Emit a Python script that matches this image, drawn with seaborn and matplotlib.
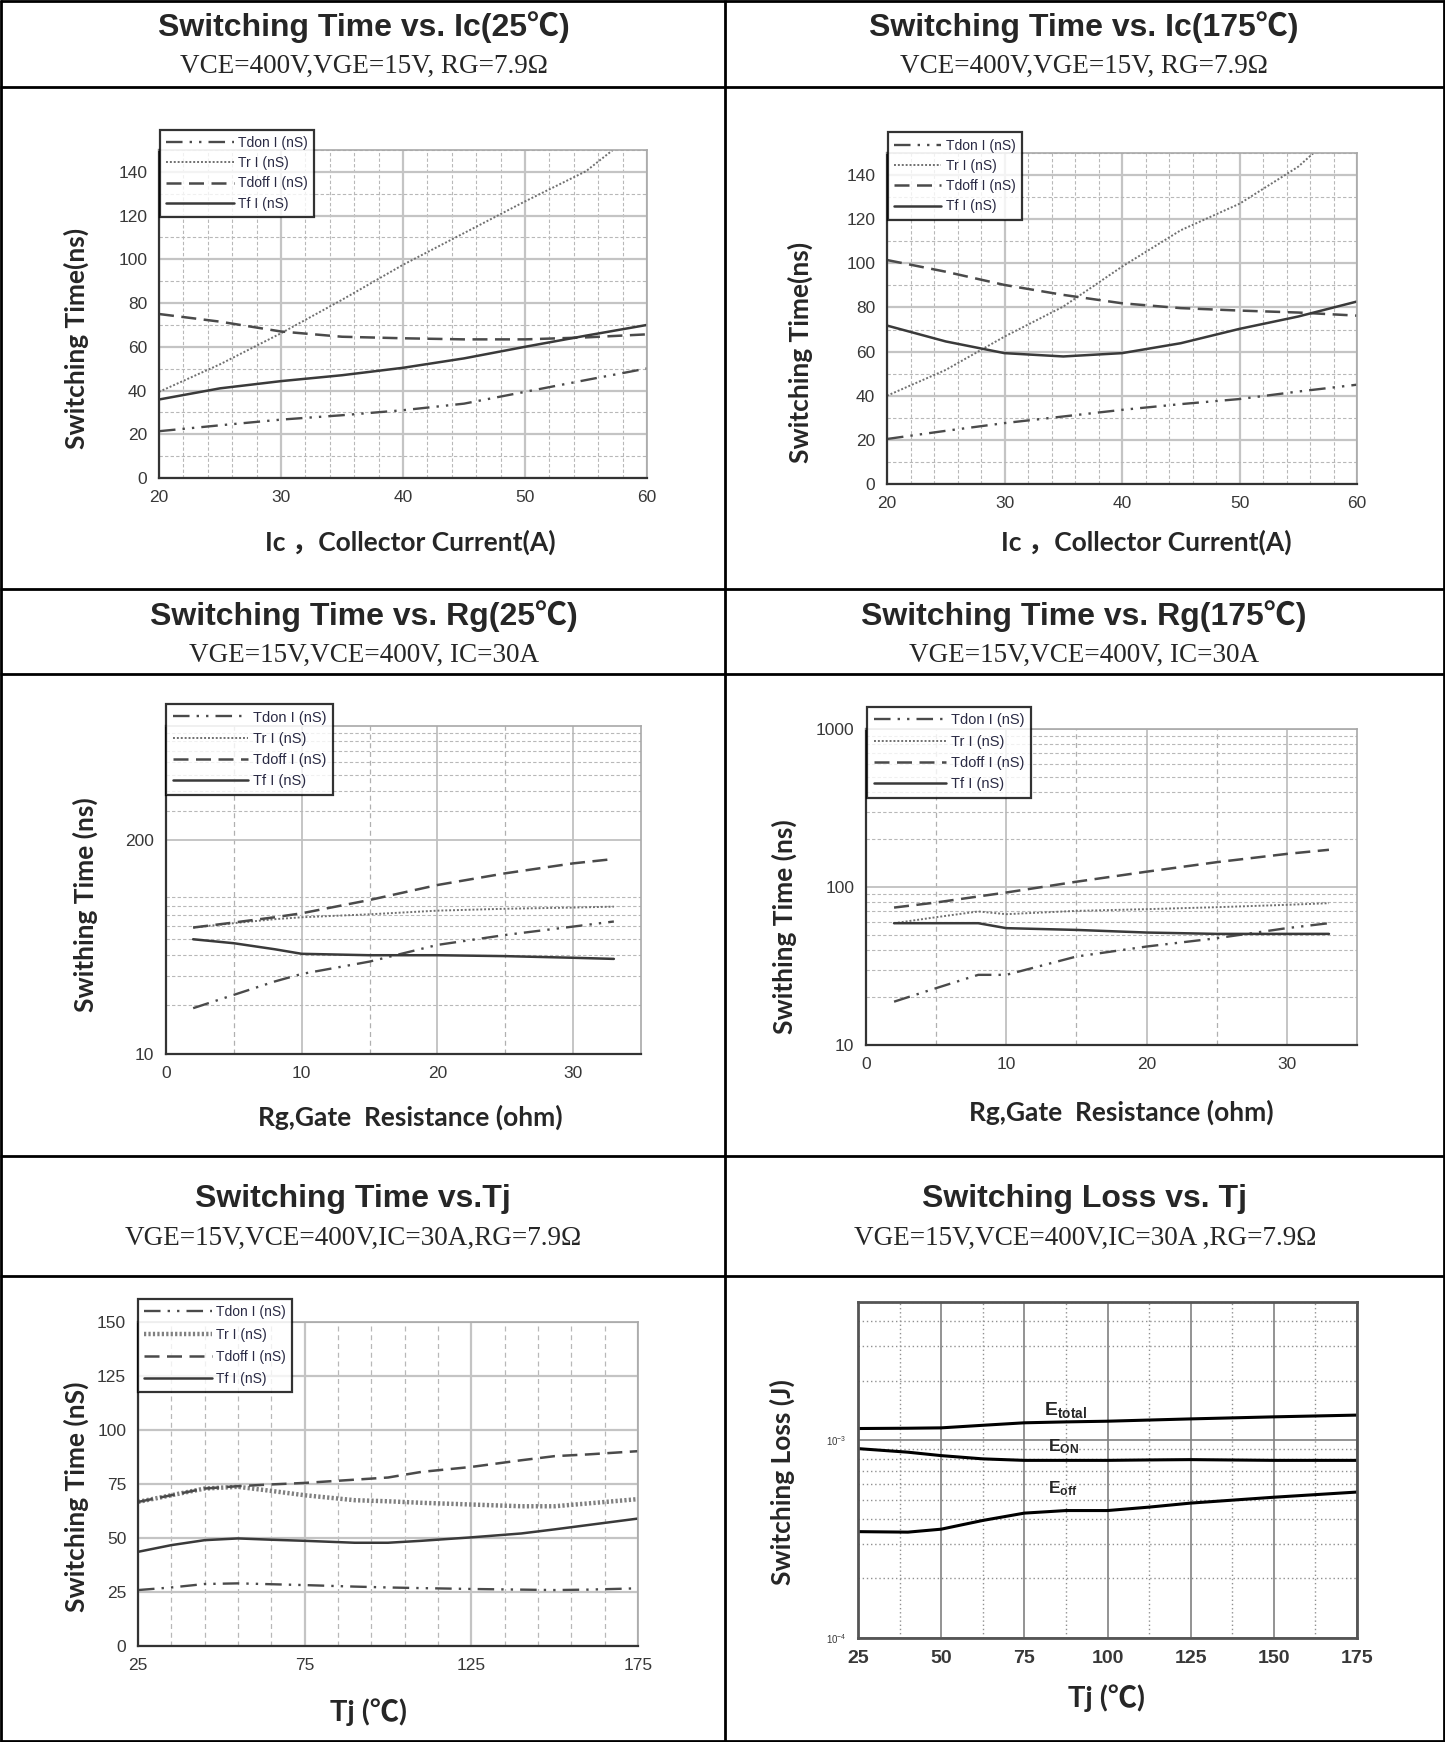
import seaborn as sns
import matplotlib.pyplot as plt
from matplotlib.ticker import MultipleLocator, FixedLocator, LogLocator, NullFormatter

W, H = 1445, 1742

# ---- data ----
# Switching time vs Ic, 25C
ic = [20, 25, 30, 35, 40, 45, 50, 55, 60]
tdon_ic25 = [21.4, 24.1, 26.7, 28.7, 31.0, 34.0, 39.4, 44.8, 50.1]
tdoff_ic25 = [75.0, 71.5, 67.0, 64.6, 63.9, 63.4, 63.4, 64.3, 65.7]
tf_ic25 = [35.9, 41.0, 44.3, 47.0, 50.4, 54.7, 60.0, 65.1, 70.0]
tr_ic25_x = [20, 25, 30, 35, 40, 45, 50, 55, 57.2]
tr_ic25 = [39.4, 52.0, 66.2, 81.5, 97.5, 112.0, 126.5, 140.3, 150.0]

# Switching time vs Ic, 175C
tdon_ic175 = [20.4, 24.1, 27.6, 30.6, 33.6, 36.2, 38.5, 41.9, 45.0]
tdoff_ic175 = [101.5, 96.2, 90.2, 85.7, 81.9, 79.7, 78.6, 77.7, 76.3]
tf_ic175 = [71.8, 64.6, 59.3, 57.8, 59.3, 63.8, 70.3, 75.9, 82.7]
tr_ic175_x = [20, 25, 30, 35, 40, 45, 50, 55, 56.3]
tr_ic175 = [40.0, 51.7, 66.8, 80.4, 98.5, 115.0, 127.0, 143.8, 150.0]

# Switching time vs Rg
rg = [2, 5, 8, 10, 15, 20, 25, 30, 33]
tdon_rg25 = [19.0, 22.9, 27.6, 30.7, 36.5, 46.1, 53.0, 59.6, 64.0]
tr_rg25 = [58.8, 62.5, 66.1, 67.9, 70.8, 74.5, 76.5, 77.8, 78.8]
tdoff_rg25 = [58.8, 63.1, 67.9, 71.8, 86.5, 106.7, 125.7, 144.5, 153.6]
tf_rg25 = [49.9, 47.2, 43.4, 40.7, 39.9, 39.9, 39.4, 38.5, 37.9]

tdon_rg175 = [18.8, 22.9, 27.8, 27.8, 36.3, 42.0, 47.4, 54.9, 59.0]
tr_rg175 = [59.0, 64.4, 70.0, 67.3, 70.6, 72.4, 74.5, 77.1, 79.0]
tdoff_rg175 = [74.1, 79.8, 87.1, 92.3, 108.0, 125.0, 143.6, 162.0, 172.0]
tf_rg175 = [59.0, 59.0, 59.0, 54.9, 53.5, 51.5, 50.5, 50.5, 50.5]

# Switching time vs Tj
tj = [25, 35, 45, 55, 65, 75, 90, 100, 110, 125, 140, 150, 160, 175]
tdon_tj = [25.9, 27.1, 28.7, 29.0, 28.6, 28.2, 27.5, 27.1, 26.8, 26.4, 26.1, 25.9, 26.1, 26.7]
tr_tj = [66.7, 69.8, 72.9, 73.7, 71.8, 69.8, 67.5, 67.0, 66.3, 65.5, 64.7, 64.7, 66.0, 68.0]
tdoff_tj = [66.7, 69.8, 72.9, 74.0, 74.8, 75.5, 77.0, 78.0, 80.6, 82.9, 86.0, 87.9, 88.7, 90.2]
tf_tj = [43.6, 46.7, 49.0, 49.8, 49.2, 48.7, 47.8, 47.8, 48.7, 50.3, 52.1, 54.0, 56.0, 59.0]

# Switching loss vs Tj
tj_loss = [25, 40, 50, 62.5, 75, 87.5, 100, 112.5, 125, 150, 175]
e_total = [1.146e-3, 1.150e-3, 1.155e-3, 1.190e-3, 1.225e-3, 1.238e-3, 1.248e-3, 1.265e-3, 1.282e-3, 1.313e-3, 1.340e-3]
e_on = [9.07e-4, 8.70e-4, 8.36e-4, 8.05e-4, 7.91e-4, 7.91e-4, 7.91e-4, 7.95e-4, 7.98e-4, 7.91e-4, 7.91e-4]
e_off = [3.45e-4, 3.43e-4, 3.55e-4, 3.93e-4, 4.28e-4, 4.41e-4, 4.41e-4, 4.59e-4, 4.81e-4, 5.15e-4, 5.47e-4]

legend_labels = ['Tdon I (nS)', 'Tr I (nS)', 'Tdoff I (nS)', 'Tf I (nS)']

# ---- fonts / style ----
sns.set_style("white")
plt.rcParams['font.family'] = ['Liberation Sans', 'DejaVu Sans']
plt.rcParams['mathtext.fontset'] = 'custom'
plt.rcParams['mathtext.rm'] = 'Liberation Sans'
plt.rcParams['mathtext.bf'] = 'Liberation Sans:bold'
LABEL_FONT = ['Lato', 'Noto Sans CJK SC', 'DejaVu Sans']
TITLE_FONT = ['Liberation Sans', 'Noto Sans CJK SC', 'DejaVu Sans']
SUB_FONT = ['Liberation Serif', 'DejaVu Serif']

S_DON = dict(color='#4a4a4a', lw=1.7, ls=(0, (7, 3, 1, 3, 1, 3)))
S_TR = dict(color='#707070', lw=1.4, ls=(0, (1, 1)))
S_DOFF = dict(color='#4a4a4a', lw=1.8, ls=(0, (6, 3)))
S_TF = dict(color='#3a3a3a', lw=1.8, ls='-')

fig = plt.figure(figsize=(W / 100, H / 100), dpi=100)

# table background
bg = fig.add_axes([0, 0, 1, 1])
bg.set_xlim(0, W)
bg.set_ylim(H, 0)
bg.axis('off')
bg.hlines([1, 87, 589, 674, 1156, 1276, 1741], 0, W, color='black', lw=2)
bg.vlines([1, 725, 1444], 0, H, color='black', lw=2)

titles = [
    ("Switching Time vs. Ic(25℃)", "VCE=400V,VGE=15V, RG=7.9Ω", 364, 27, 66),
    ("Switching Time vs. Ic(175℃)", "VCE=400V,VGE=15V, RG=7.9Ω", 1084, 27, 66),
    ("Switching Time vs. Rg(25℃)", "VGE=15V,VCE=400V, IC=30A", 364, 616, 655),
    ("Switching Time vs. Rg(175℃)", "VGE=15V,VCE=400V, IC=30A", 1084, 616, 655),
    ("Switching Time vs.Tj", "VGE=15V,VCE=400V,IC=30A,RG=7.9Ω", 353, 1199, 1238),
    ("Switching Loss vs. Tj", "VGE=15V,VCE=400V,IC=30A ,RG=7.9Ω", 1085, 1199, 1238),
]
for t, s, cx, ty, sy in titles:
    bg.text(cx, ty, t, ha='center', va='center', fontsize=23, fontweight='bold', family=TITLE_FONT)
    bg.text(cx, sy, s, ha='center', va='center', fontsize=19.5, family=SUB_FONT)


def make_ax(l, t, r, b):
    return fig.add_axes([l / W, 1 - b / H, (r - l) / W, (b - t) / H])


def ptxt(x, y, s, rot=0, size=19):
    fig.text(x / W, 1 - y / H, s, ha='center', va='center', rotation=rot,
             fontsize=size, fontweight='bold', family=LABEL_FONT)


def draw(ax, x, y, st):
    sns.lineplot(x=x, y=y, ax=ax, color=st['color'], linewidth=st['lw'],
                 linestyle=st['ls'], legend=False)


def style_frame(ax, dark_all=False):
    for side in ['left', 'bottom']:
        ax.spines[side].set_color('#333333')
        ax.spines[side].set_linewidth(1.6)
    for side in ['top', 'right']:
        ax.spines[side].set_color('#333333' if dark_all else '#a8a8a8')
        ax.spines[side].set_linewidth(1.6 if dark_all else 1.2)
    ax.tick_params(which='major', direction='out', length=5, width=1.2, color='#333333',
                   labelsize=12.5, labelcolor='#383838')
    ax.tick_params(which='minor', length=0)
    ax.set_xlabel('')
    ax.set_ylabel('')


def add_legend(ax, anchor, fs=10, spacing=0.45, hl=3.7):
    lines = ax.get_lines()[:4]
    leg = ax.legend(lines, legend_labels, loc='upper left', bbox_to_anchor=anchor,
                    borderaxespad=0, frameon=True, fancybox=False,
                    handlelength=hl, handletextpad=0.3, labelspacing=spacing,
                    borderpad=0.45, prop={'size': fs})
    leg.get_frame().set_edgecolor('black')
    leg.get_frame().set_linewidth(1.6)
    leg.set_zorder(10)
    for txt in leg.get_texts():
        txt.set_color('#2a2a44')


def time_grid(ax):
    ax.grid(which='major', color='#c4c4c4', lw=1.6, ls='-')
    ax.grid(which='minor', color='#b8b8b8', lw=0.8, ls=(0, (3, 2)))
    ax.set_axisbelow(True)


# ---- chart 1 / 2 : vs Ic ----
for (l, t, r, b), don, tr_x, tr, doff, tf, hl, lx, ly, yx, yy in [
    ((159, 150, 647, 478), tdon_ic25, tr_ic25_x, tr_ic25, tdoff_ic25, tf_ic25, 4.9, 410, 542, 76, 338),
    ((887, 153, 1357, 484), tdon_ic175, tr_ic175_x, tr_ic175, tdoff_ic175, tf_ic175, 3.4, 1146, 542, 800, 352),
]:
    ax = make_ax(l, t, r, b)
    draw(ax, ic, don, S_DON)
    draw(ax, tr_x, tr, S_TR)
    draw(ax, ic, doff, S_DOFF)
    draw(ax, ic, tf, S_TF)
    ax.set_xlim(20, 60)
    ax.set_ylim(0, 150)
    ax.xaxis.set_major_locator(MultipleLocator(10))
    ax.xaxis.set_minor_locator(MultipleLocator(2))
    ax.set_yticks(range(0, 141, 20))
    ax.yaxis.set_minor_locator(MultipleLocator(10))
    time_grid(ax)
    style_frame(ax)
    add_legend(ax, (0.002, 1.062), hl=hl)
    ptxt(lx, ly, 'Ic ，Collector Current(A)')
    ptxt(yx, yy, 'Switching Time(ns)', rot=90)

# ---- chart 3 / 4 : vs Rg ----
for (l, t, r, b), don, tr, doff, tf, top, ticks, anchor, hl, lx, ly, yx, yy in [
    ((166, 726, 641, 1054), tdon_rg25, tr_rg25, tdoff_rg25, tf_rg25, 990, [10, 200],
     (0.0, 1.067), 5.2, 410, 1117, 85, 905),
    ((866, 729, 1357, 1045), tdon_rg175, tr_rg175, tdoff_rg175, tf_rg175, 1000, [10, 100, 1000],
     (0.002, 1.07), 5.0, 1121, 1112, 784, 927),
]:
    ax = make_ax(l, t, r, b)
    draw(ax, rg, don, S_DON)
    draw(ax, rg, tr, S_TR)
    draw(ax, rg, doff, S_DOFF)
    draw(ax, rg, tf, S_TF)
    ax.set_yscale('log')
    ax.set_xlim(0, 35)
    ax.set_ylim(10, top)
    ax.set_xticks([0, 10, 20, 30])
    ax.xaxis.set_minor_locator(FixedLocator([5, 15, 25]))
    ax.yaxis.set_major_locator(FixedLocator(ticks))
    ax.set_yticklabels([str(v) for v in ticks])
    ax.yaxis.set_minor_locator(LogLocator(base=10, subs=range(2, 10)))
    ax.yaxis.set_minor_formatter(NullFormatter())
    ax.grid(which='major', color='#c0c0c0', lw=1.3, ls='-')
    ax.grid(which='minor', axis='y', color='#b8b8b8', lw=0.8, ls=(0, (3, 2)))
    ax.grid(which='minor', axis='x', color='#b0b0b0', lw=0.9, ls=(0, (4, 3)))
    ax.set_axisbelow(True)
    style_frame(ax)
    add_legend(ax, anchor, fs=10.5, spacing=0.5, hl=hl)
    ptxt(lx, ly, 'Rg,Gate  Resistance (ohm)')
    ptxt(yx, yy, 'Swithing Time (ns)', rot=90)

# ---- chart 5 : vs Tj ----
ax = make_ax(138, 1322, 638, 1646)
draw(ax, tj, tdon_tj, S_DON)
draw(ax, tj, tr_tj, dict(color='#808080', lw=3.2, ls=(0, (0.5, 0.5))))
draw(ax, tj, tdoff_tj, S_DOFF)
draw(ax, tj, tf_tj, S_TF)
ax.set_xlim(25, 175)
ax.set_ylim(0, 150)
ax.set_xticks([25, 75, 125, 175])
ax.xaxis.set_minor_locator(FixedLocator(range(35, 175, 10)))
ax.yaxis.set_major_locator(MultipleLocator(25))
ax.grid(which='major', color='#c4c4c4', lw=1.6, ls='-')
ax.grid(which='minor', axis='x', color='#b8b8b8', lw=0.9, ls=(0, (4, 3)))
ax.set_axisbelow(True)
style_frame(ax)
add_legend(ax, (0.0, 1.071), spacing=0.6, hl=4.9)
ptxt(368, 1712, 'Tj (℃)', size=21)
ptxt(76, 1497, 'Switching Time (nS)', rot=90)

# ---- chart 6 : switching loss ----
ax = make_ax(858, 1302, 1357, 1638)
for e in [e_total, e_on, e_off]:
    draw(ax, tj_loss, e, dict(color='black', lw=2.2, ls='-'))
ax.set_yscale('log')
ax.set_xlim(25, 175)
ax.set_ylim(1e-4, 5e-3)
ax.set_xticks(range(25, 176, 25))
ax.xaxis.set_minor_locator(FixedLocator([37.5, 62.5, 87.5, 112.5, 137.5, 162.5]))
ax.yaxis.set_major_locator(FixedLocator([1e-4, 1e-3]))
ax.yaxis.set_minor_locator(LogLocator(base=10, subs=range(2, 10)))
ax.yaxis.set_minor_formatter(NullFormatter())
ax.grid(which='major', color='#808080', lw=1.2, ls='-')
ax.grid(which='minor', color='#909090', lw=1.0, ls=(0, (1, 2)))
ax.set_axisbelow(True)
style_frame(ax, dark_all=True)
for sp in ax.spines.values():
    sp.set_color('#555555')
    sp.set_linewidth(2)
ax.tick_params(which='minor', length=3, color='#555555')
ax.tick_params(axis='y', which='major', labelsize=7)
for lab in ax.get_xticklabels():
    lab.set_fontweight('bold')
    lab.set_fontsize(14)
ax.text(81, 1.43e-3, r'$\mathbf{E_{total}}$', fontsize=14, va='center')
ax.text(82, 9.3e-4, r'$\mathbf{E_{ON}}$', fontsize=12.5, va='center')
ax.text(82, 5.7e-4, r'$\mathbf{E_{off}}$', fontsize=12.5, va='center')
ptxt(1107, 1698, 'Tj (℃)', size=21)
ptxt(782, 1482, 'Switching Loss (J)', rot=90)

fig.savefig('out.png', dpi=100)
